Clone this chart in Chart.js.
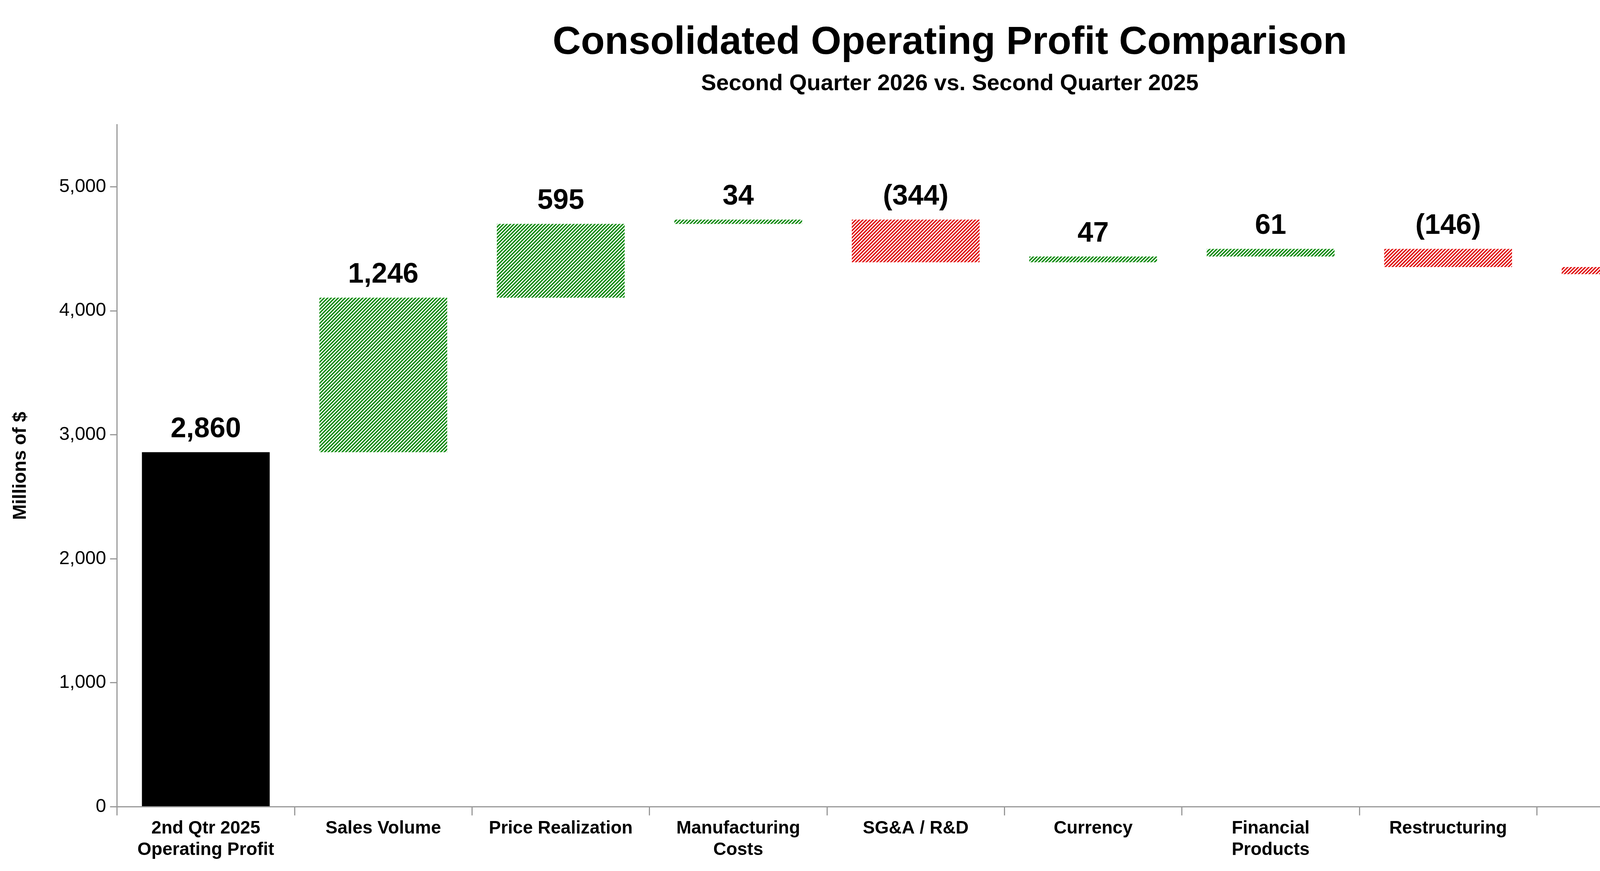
<!DOCTYPE html>
<html>
<head>
    <title>Consolidated Operating Profit Comparison</title>
    <script src="https://cdn.jsdelivr.net/npm/chart.js"></script>
    <style>
        html, body { margin: 0; padding: 0; background: #fff; overflow: hidden; }
        #myChart { display: block; width: 4893px; height: 2231px; }
    </style>
</head>
<body>
    <canvas id="myChart" width="4893" height="2231"></canvas>

    <script>
        const categories = [
            ['2nd Qtr 2025', 'Operating Profit'], 'Sales Volume', 'Price Realization',
            ['Manufacturing', 'Costs'], 'SG&A / R&D', 'Currency', ['Financial', 'Products'],
            'Restructuring', 'Other', ['2nd Qtr 2026', 'Operating Profit']
        ];
        const changes = [2860, 1246, 595, 34, -344, 47, 61, -146, -58, 4295];
        const kinds = ['total', 'step', 'step', 'step', 'step', 'step', 'step', 'step', 'step', 'total'];
        const yTicks = [0, 1000, 2000, 3000, 4000, 5000];

        const FONT = "'Liberation Sans Narrow', 'Arial Narrow', 'Liberation Sans', Arial, sans-serif";

        // floating bars [low, high]
        let running = 0;
        const ranges = changes.map((v, i) => {
            if (kinds[i] === 'total') { running = v; return [0, v]; }
            const start = running;
            running += v;
            return [Math.min(start, running), Math.max(start, running)];
        });

        const hatch = (color) => {
            const c = document.createElement('canvas');
            c.width = 9; c.height = 9;
            const g = c.getContext('2d');
            g.strokeStyle = color;
            g.lineWidth = 3.6;
            g.beginPath();
            for (let k = -1; k <= 1; k++) {
                g.moveTo(k * 9 - 1, 10);
                g.lineTo(k * 9 + 10, -1);
            }
            g.stroke();
            return g.createPattern(c, 'repeat');
        };
        const greenHatch = hatch('#0a8a0a');
        const redHatch = hatch('#e01010');
        const colors = changes.map((v, i) => kinds[i] === 'total' ? '#000' : (v >= 0 ? greenHatch : redHatch));

        const fmt = (v) => {
            const s = Math.abs(v).toLocaleString('en-US');
            return v < 0 ? '(' + s + ')' : s;
        };

        const valueLabels = {
            id: 'valueLabels',
            afterDatasetsDraw(chart) {
                const ctx = chart.ctx;
                const meta = chart.getDatasetMeta(0);
                ctx.save();
                ctx.font = 'bold 72px ' + FONT;
                ctx.fillStyle = '#000';
                ctx.textAlign = 'center';
                ctx.textBaseline = 'bottom';
                meta.data.forEach((bar, i) => {
                    const top = Math.min(bar.y, bar.base);
                    ctx.fillText(fmt(changes[i]), bar.x, top - 22);
                });
                ctx.restore();
            }
        };

        const ctx = document.getElementById('myChart').getContext('2d');
        const chart = new Chart(ctx, {
            type: 'bar',
            data: {
                labels: categories,
                datasets: [{
                    data: ranges,
                    backgroundColor: colors,
                    borderWidth: 0,
                    barPercentage: 0.72,
                    categoryPercentage: 1
                }]
            },
            options: {
                responsive: false,
                devicePixelRatio: 1,
                animation: false,
                layout: { padding: { left: 20, right: 50, top: 50, bottom: 20 } },
                plugins: {
                    legend: { display: false },
                    tooltip: { enabled: false },
                    title: {
                        display: true,
                        text: 'Consolidated Operating Profit Comparison',
                        color: '#000',
                        font: { family: FONT, size: 100, weight: 'bold' },
                        padding: { top: 0, bottom: 10 }
                    },
                    subtitle: {
                        display: true,
                        text: 'Second Quarter 2026 vs. Second Quarter 2025',
                        color: '#000',
                        font: { family: FONT, size: 58, weight: 'bold' },
                        padding: { top: 0, bottom: 70 }
                    }
                },
                scales: {
                    x: {
                        offset: true,
                        grid: {
                            offset: true,
                            drawOnChartArea: false,
                            color: '#999',
                            tickLength: 22,
                            lineWidth: 3
                        },
                        border: { color: '#999', width: 3 },
                        ticks: {
                            color: '#000',
                            font: { family: FONT, size: 46, weight: 'bold' },
                            maxRotation: 0,
                            autoSkip: false,
                            padding: 6
                        }
                    },
                    y: {
                        min: 0,
                        max: 5500,
                        afterBuildTicks: (axis) => { axis.ticks = yTicks.map(v => ({ value: v })); },
                        grid: {
                            drawOnChartArea: false,
                            color: '#999',
                            tickLength: 18,
                            lineWidth: 3
                        },
                        border: { color: '#999', width: 3 },
                        ticks: {
                            color: '#000',
                            font: { family: FONT, size: 48 },
                            padding: 10,
                            callback: (v) => v.toLocaleString('en-US')
                        },
                        title: {
                            display: true,
                            text: 'Millions of $',
                            color: '#000',
                            font: { family: FONT, size: 48, weight: 'bold' },
                            padding: { bottom: 60 }
                        }
                    }
                }
            },
            plugins: [valueLabels]
        });
    </script>
</body>
</html>
